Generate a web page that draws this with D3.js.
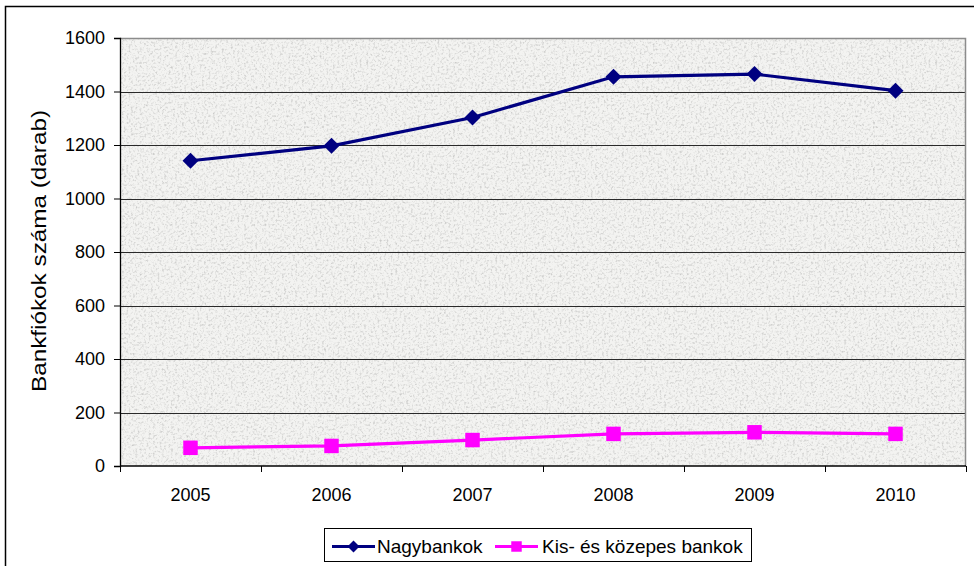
<!DOCTYPE html>
<html>
<head>
<meta charset="utf-8">
<script src="https://cdn.jsdelivr.net/npm/d3@7"></script>
<style>
  body { margin: 0; background: #fff; }
  text { font-family: "Liberation Sans", Arial, sans-serif; fill: #000; }
</style>
</head>
<body>
<div id="chart"></div>
<script>
"use strict";

const years = ['2005', '2006', '2007', '2008', '2009', '2010'];
const nagyValues = [1141, 1197, 1303, 1455, 1465, 1403];
const kisValues = [68, 75, 97, 120, 126, 120];
const yTicks = [0, 200, 400, 600, 800, 1000, 1200, 1400, 1600];
const seriesNames = ['Nagybankok', 'Kis- és közepes bankok'];

const W = 974, H = 566;
const plot = { left: 120, top: 38, right: 966, bottom: 466 };

const svg = d3.select('#chart').append('svg').attr('width', W).attr('height', H);

// granite-ish texture for the plot area
const defs = svg.append('defs');
const filt = defs.append('filter').attr('id', 'granite').attr('x', 0).attr('y', 0).attr('width', 1).attr('height', 1);
filt.append('feTurbulence').attr('type', 'fractalNoise').attr('baseFrequency', 0.45).attr('numOctaves', 3).attr('seed', 4).attr('result', 'noise');
filt.append('feColorMatrix').attr('in', 'noise').attr('type', 'matrix')
    .attr('values', '0 0 0 0 0.6  0 0 0 0 0.6  0 0 0 0 0.59  -2.6 0 0 0 1.35')
    .attr('result', 'spots');
filt.append('feFlood').attr('flood-color', '#f3f3f1').attr('result', 'base');
filt.append('feComposite').attr('in', 'spots').attr('in2', 'base').attr('operator', 'over');

// outer chart border
svg.append('rect').attr('x', 5.5).attr('y', 6.5).attr('width', W + 10).attr('height', H + 10)
   .attr('fill', 'none').attr('stroke', '#000').attr('stroke-width', 1.5);

const x = d3.scaleBand().domain(years).range([plot.left, plot.right]);
const y = d3.scaleLinear().domain([0, 1600]).range([plot.bottom, plot.top]);

svg.append('rect').attr('x', plot.left).attr('y', plot.top)
   .attr('width', plot.right - plot.left).attr('height', plot.bottom - plot.top)
   .attr('filter', 'url(#granite)');

// gridlines
svg.append('g').selectAll('line').data(yTicks.filter(d => d > 0 && d < 1600)).enter()
   .append('line')
   .attr('x1', plot.left).attr('x2', plot.right)
   .attr('y1', d => Math.round(y(d)) + 0.5).attr('y2', d => Math.round(y(d)) + 0.5)
   .attr('stroke', '#2a2a2a').attr('stroke-width', 1);

// plot frame top/right in gray
svg.append('path')
   .attr('d', `M${plot.left},${plot.top + 0.5}H${plot.right - 0.5}V${plot.bottom}`)
   .attr('fill', 'none').attr('stroke', '#8c8c8c').attr('stroke-width', 1.5);

// y axis
const yAxis = svg.append('g').attr('transform', `translate(${plot.left},0)`)
   .call(d3.axisLeft(y).tickValues(yTicks).tickSize(6).tickPadding(9).tickFormat(d3.format('d')));
yAxis.select('.domain').attr('stroke', '#000').attr('stroke-width', 1.3);
yAxis.selectAll('.tick line').attr('stroke', '#000');
yAxis.selectAll('text').style('font-size', '18px').attr('fill', '#000');

// x axis with ticks at band boundaries
const xAxisG = svg.append('g').attr('transform', `translate(0,${plot.bottom})`);
xAxisG.append('line').attr('x1', plot.left).attr('x2', plot.right)
   .attr('stroke', '#000').attr('stroke-width', 1.5);
const boundaries = years.map(d => x(d)).concat([plot.right]);
xAxisG.selectAll('.xt').data(boundaries).enter().append('line')
   .attr('x1', d => Math.round(d) + 0.5).attr('x2', d => Math.round(d) + 0.5)
   .attr('y1', 0).attr('y2', 6).attr('stroke', '#000');
xAxisG.selectAll('.xl').data(years).enter().append('text')
   .attr('x', d => x(d) + x.bandwidth() / 2).attr('y', 35)
   .attr('text-anchor', 'middle').style('font-size', '18px').text(d => d);

// y axis title
svg.append('text')
   .attr('transform', `translate(46,${(plot.top + plot.bottom) / 2 - 1}) rotate(-90)`)
   .attr('text-anchor', 'middle').style('font-size', '20px')
   .attr('textLength', 282).attr('lengthAdjust', 'spacingAndGlyphs')
   .text('Bankfiókok száma (darab)');

const cx = d => x(d) + x.bandwidth() / 2;
const line = d3.line().x((d, i) => cx(years[i])).y(d => y(d));

const diamond = d3.symbol().type(d3.symbolSquare).size(128);
const square = d3.symbol().type(d3.symbolSquare).size(210);

// Nagybankok
svg.append('path').datum(nagyValues).attr('d', line)
   .attr('fill', 'none').attr('stroke', '#000080').attr('stroke-width', 3.2);
svg.selectAll('.nagy').data(nagyValues).enter().append('path')
   .attr('d', diamond).attr('fill', '#000080')
   .attr('transform', (d, i) => `translate(${cx(years[i])},${y(d)}) rotate(45)`);

// Kis- és közepes bankok
svg.append('path').datum(kisValues).attr('d', line)
   .attr('fill', 'none').attr('stroke', '#ff00ff').attr('stroke-width', 3.2);
svg.selectAll('.kis').data(kisValues).enter().append('path')
   .attr('d', square).attr('fill', '#ff00ff')
   .attr('transform', (d, i) => `translate(${cx(years[i])},${y(d)})`);

// legend
const lg = svg.append('g');
lg.append('rect').attr('x', 324.5).attr('y', 528.5).attr('width', 427).attr('height', 33)
  .attr('fill', '#fff').attr('stroke', '#000').attr('stroke-width', 1);
const items = [
  { name: seriesNames[0], color: '#000080', sym: d3.symbol().type(d3.symbolSquare).size(72), rot: 45, x0: 332, tx: 377 },
  { name: seriesNames[1], color: '#ff00ff', sym: d3.symbol().type(d3.symbolSquare).size(110), rot: 0, x0: 495, tx: 542 }
];
items.forEach(it => {
  lg.append('line').attr('x1', it.x0).attr('x2', it.x0 + 43).attr('y1', 546.5).attr('y2', 546.5)
    .attr('stroke', it.color).attr('stroke-width', 3);
  lg.append('path').attr('d', it.sym).attr('fill', it.color)
    .attr('transform', `translate(${it.x0 + 21.5},546.5) rotate(${it.rot})`);
  lg.append('text').attr('x', it.tx).attr('y', 553).style('font-size', '19px').text(it.name);
});
</script>
</body>
</html>
